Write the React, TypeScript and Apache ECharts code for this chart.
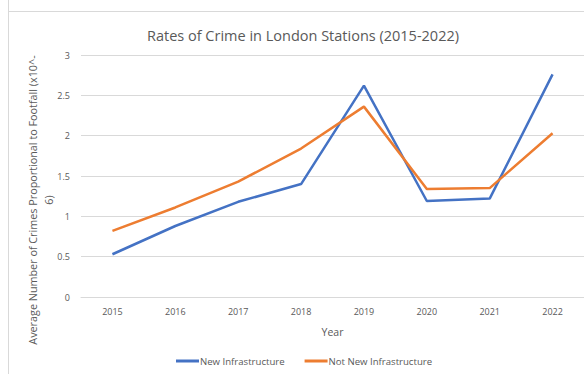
import React, { useEffect, useRef } from "react";
import * as echarts from "echarts";

const years = ["2015", "2016", "2017", "2018", "2019", "2020", "2021", "2022"];
const newInfrastructure = [0.53, 0.88, 1.18, 1.4, 2.62, 1.19, 1.22, 2.76];
const notNewInfrastructure = [0.82, 1.11, 1.43, 1.84, 2.36, 1.34, 1.35, 2.03];
const yTicks = { min: 0, max: 3, interval: 0.5 };
const yAxisTitle = "Average Number of Crimes Proportional to Footfall (x10^-\n6)";

const FONT = "Open Sans";
const GRAY = "#595959";

export default function App() {
  const ref = useRef<HTMLDivElement>(null);
  useEffect(() => {
    const chart = echarts.init(ref.current!, null, { renderer: "svg" });
    chart.setOption({
      animation: false,
      backgroundColor: "#ffffff",
      textStyle: { fontFamily: FONT },
      title: {
        text: "Rates of Crime in London Stations (2015-2022)",
        left: 142,
        top: 23,
        textStyle: { fontFamily: FONT, fontSize: 14.5, fontWeight: "normal", color: GRAY },
      },
      graphic: [
        { type: "line", shape: { x1: 8.5, y1: 0, x2: 8.5, y2: 374 }, style: { stroke: "#d9d9d9", lineWidth: 1 } },
        { type: "line", shape: { x1: 8, y1: 11.5, x2: 584, y2: 11.5 }, style: { stroke: "#d9d9d9", lineWidth: 1 } },
        {
          type: "text",
          x: 40,
          y: 200,
          rotation: Math.PI / 2,
          style: {
            text: yAxisTitle,
            fontFamily: FONT,
            fontSize: 10.8,
            lineHeight: 16,
            fill: GRAY,
            align: "center",
            verticalAlign: "middle",
          },
        },
      ],
      grid: { left: 81, top: 55, width: 505, height: 242, containLabel: false },
      legend: {
        bottom: 3,
        left: 171,
        itemWidth: 23,
        itemHeight: 3,
        itemGap: 20,
        icon: "rect",
        textStyle: { fontFamily: FONT, fontSize: 9.6, color: GRAY, padding: [0, 0, 0, -4] },
        data: ["New Infrastructure", "Not New Infrastructure"],
      },
      xAxis: {
        type: "category",
        data: years,
        boundaryGap: true,
        name: "Year",
        nameLocation: "middle",
        nameGap: 29,
        nameTextStyle: { fontFamily: FONT, fontSize: 10.5, color: GRAY },
        axisLine: { show: true, lineStyle: { color: "#d9d9d9" } },
        axisTick: { show: false },
        axisLabel: { fontFamily: FONT, fontSize: 9, color: GRAY, margin: 10 },
      },
      yAxis: {
        type: "value",
        min: yTicks.min,
        max: yTicks.max,
        interval: yTicks.interval,
        axisLine: { show: false },
        axisTick: { show: false },
        splitLine: { lineStyle: { color: "#d9d9d9" } },
        axisLabel: { fontFamily: FONT, fontSize: 9, color: GRAY, margin: 11 },
      },
      series: [
        {
          name: "New Infrastructure",
          type: "line",
          data: newInfrastructure,
          symbol: "none",
          lineStyle: { width: 2.5, color: "#4472C4" },
          itemStyle: { color: "#4472C4" },
        },
        {
          name: "Not New Infrastructure",
          type: "line",
          data: notNewInfrastructure,
          symbol: "none",
          lineStyle: { width: 2.5, color: "#ED7D31" },
          itemStyle: { color: "#ED7D31" },
        },
      ],
    });
    return () => chart.dispose();
  }, []);
  return <div ref={ref} style={{ width: 584, height: 374, position: "fixed", left: 0, top: 0 }} />;
}
